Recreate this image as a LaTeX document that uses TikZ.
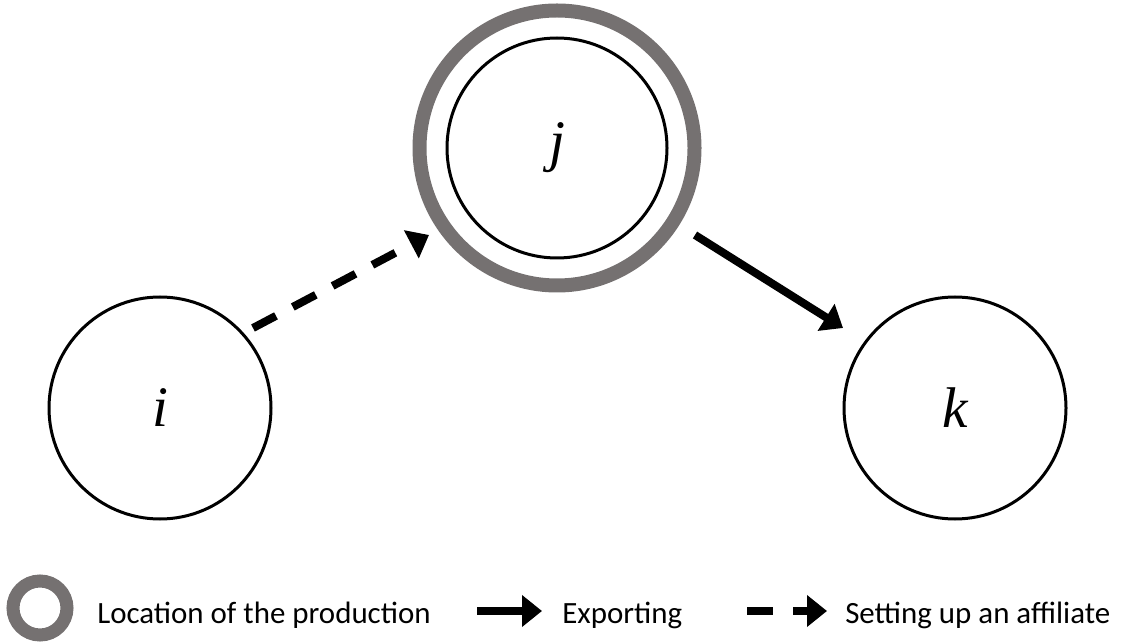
\documentclass[tikz,border=0pt]{standalone}
\usepackage{fontspec}
\setmainfont{Liberation Serif}
\newfontfamily\legendfont{Carlito}
\usetikzlibrary{arrows.meta,calc}
\definecolor{ringgray}{RGB}{117,113,113}
\begin{document}
\begin{tikzpicture}[x=0.75pt,y=0.75pt,
  country/.style={circle,draw=black,line width=2.25pt,minimum size=166.5pt,inner sep=0pt,font=\fontsize{43}{43}\selectfont\itshape},
  ring/.style={circle,draw=ringgray,line width=10.5pt,inner sep=0pt},
  flow/.style={line width=6pt,-{Triangle[length=15pt,width=23pt]}},
  affil/.style={flow,dash pattern=on 19.5pt off 14.25pt},
  legtext/.style={anchor=base west,font=\legendfont\fontsize{23.2}{27}\selectfont,inner sep=0pt}]
\useasboundingbox (0,0) rectangle (1123,643);
% countries
\node[ring,minimum size=206.25pt] (jr) at (557,495) {};
\node[country,minimum size=165pt] (j) at (557,495) {j};
\node[country] (i) at (160,235) {i};
\node[country] (k) at (955,235) {k};
% connectors
\draw[affil] ($(i)+(93,80)$) -- ($(j)+(-128,-87)$);
\draw[flow] ($(j)+(138,-87)$) -- ($(k)+(-112,80)$);
% legend
\node[ring,line width=9.75pt,minimum size=40.5pt] (lr) at (40,35) {};
\node[legtext] (t1) at (97,20) {Location of the production};
\coordinate (e1) at (477,32);
\coordinate (e2) at (542,32);
\draw[flow] (e1) -- (e2);
\node[legtext] (t2) at (562,20) {Exporting};
\coordinate (d1) at (747,32);
\coordinate (d2) at (773,32);
\coordinate (d3) at (793,32);
\coordinate (d4) at (827,32);
\draw[line width=6pt] (d1) -- (d2);
\draw[flow] (d3) -- (d4);
\node[legtext] (t3) at (845,20) {Setting up an affiliate};
\end{tikzpicture}
\end{document}
